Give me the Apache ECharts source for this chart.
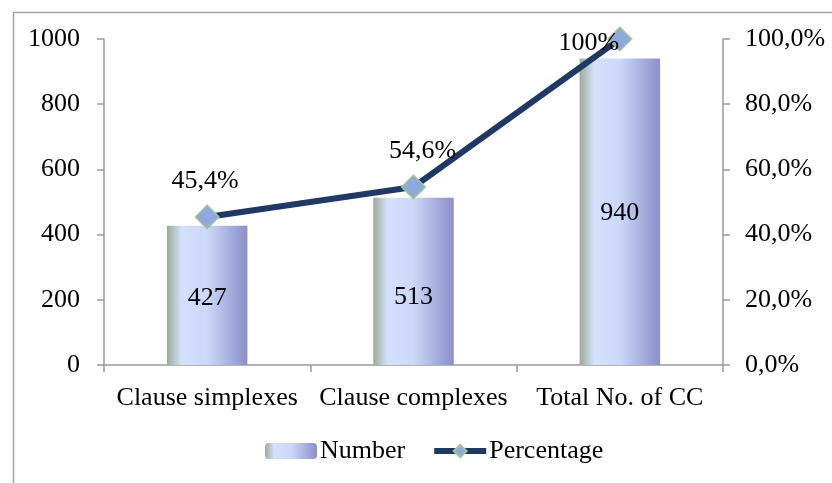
<!DOCTYPE html>
<html><head><meta charset="utf-8">
<script src="https://cdn.jsdelivr.net/npm/echarts@6/dist/echarts.min.js"></script>
<style>html,body{margin:0;padding:0;background:#fff}#c{width:832px;height:483px}</style>
</head><body><div id="c"></div>
<script>
const categories = ['Clause simplexes', 'Clause complexes', 'Total No. of CC'];
const numberValues = [427, 513, 940];
const percentValues = [45.4, 54.6, 100];
const percentLabels = ['45,4%', '54,6%', '100%'];
const leftTicks = [0, 200, 400, 600, 800, 1000];

const chart = echarts.init(document.getElementById('c'));
const F = '"Liberation Serif", "Times New Roman", serif';
const FS = 26;
const axisGrey = '#9a9a9a';
const barGrad = new echarts.graphic.LinearGradient(0, 0, 1, 0, [
  {offset: 0, color: '#9aac98'},
  {offset: 0.18, color: '#d4e0fc'},
  {offset: 0.5, color: '#cdd7f8'},
  {offset: 1, color: '#8a8fc9'}
]);
const labelOffsets = [[-2, 0], [9, 0], [-31, 40]];
const barLabelOffsets = [[0, 3], [0, 16], [0, 1]];

chart.setOption({
  animation: false,
  textStyle: {fontFamily: F},
  graphic: [{type: 'rect', left: 11, top: 10, shape: {width: 900, height: 600},
    style: {fill: 'none', stroke: '#a6a6a6', lineWidth: 1.5}}],
  grid: {left: 104, right: 109, top: 39, bottom: 118},
  legend: {
    bottom: 14, left: 260, itemGap: 26, itemWidth: 52, itemHeight: 16,
    textStyle: {fontFamily: F, fontSize: FS, color: '#000', padding: [0, 0, 0, -2]},
    data: ['Number', {name: 'Percentage', lineStyle: {width: 6}}]
  },
  xAxis: {
    type: 'category', data: categories,
    axisLine: {lineStyle: {color: axisGrey, width: 1.5}},
    axisTick: {show: true, length: 7, lineStyle: {color: axisGrey, width: 1.5}},
    axisLabel: {fontFamily: F, fontSize: FS, color: '#000', margin: 20, interval: 0}
  },
  yAxis: [{
    type: 'value', min: 0, max: 1000, interval: 200,
    splitLine: {show: false},
    axisLine: {show: true, lineStyle: {color: axisGrey, width: 1.5}},
    axisTick: {show: true, length: 7, lineStyle: {color: axisGrey, width: 1.5}},
    axisLabel: {fontFamily: F, fontSize: FS, color: '#000', margin: 24,
      formatter: v => leftTicks.includes(v) ? String(v) : ''}
  }, {
    type: 'value', min: 0, max: 100, interval: 20, position: 'right',
    splitLine: {show: false},
    axisLine: {show: true, lineStyle: {color: axisGrey, width: 1.5}},
    axisTick: {show: true, length: 7, lineStyle: {color: axisGrey, width: 1.5}},
    axisLabel: {fontFamily: F, fontSize: FS, color: '#000', margin: 22,
      formatter: v => v.toFixed(1).replace('.', ',') + '%'}
  }],
  series: [{
    name: 'Number', type: 'bar', barWidth: '39%',
    data: numberValues.map((v, i) => ({
      value: v,
      label: {show: true, position: 'inside', offset: barLabelOffsets[i],
        fontFamily: F, fontSize: FS, color: '#000'}
    })),
    itemStyle: {color: barGrad}
  }, {
    name: 'Percentage', type: 'line', yAxisIndex: 1, z: 5,
    data: percentValues.map((v, i) => ({
      value: v,
      label: {show: true, position: 'top', distance: 10, offset: labelOffsets[i],
        formatter: () => percentLabels[i], fontFamily: F, fontSize: FS, color: '#000'}
    })),
    lineStyle: {color: '#203864', width: 6},
    symbol: 'diamond', symbolSize: 24,
    itemStyle: {color: '#8eaadc', borderColor: '#a9c98c', borderWidth: 1.2}
  }]
});
</script></body></html>
